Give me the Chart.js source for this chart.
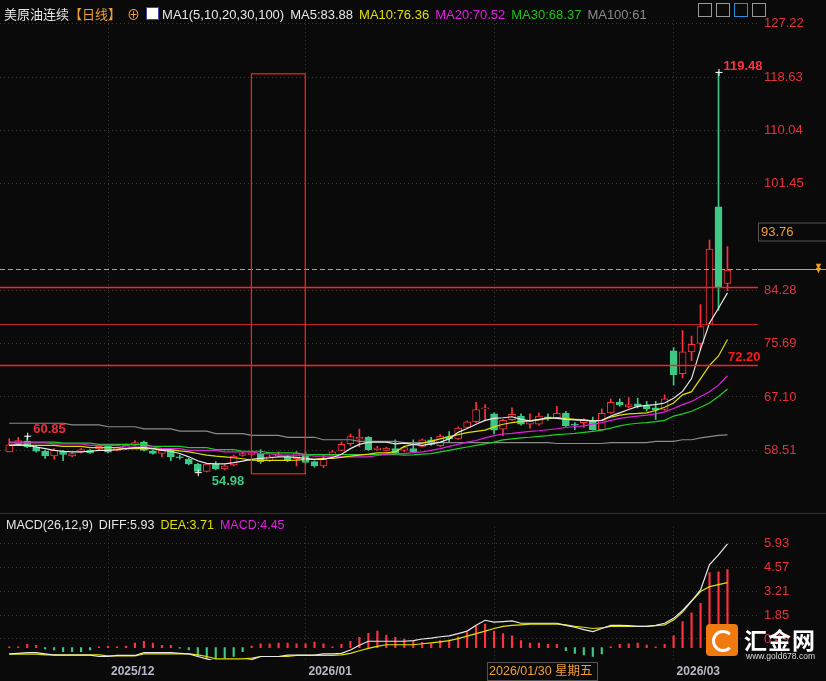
<!DOCTYPE html>
<html><head><meta charset="utf-8">
<script src="https://cdn.jsdelivr.net/npm/chart.js@4"></script>
<style>
html,body{margin:0;padding:0;background:#0a0a0a;overflow:hidden}
#wrap{position:relative;width:826px;height:681px;background:#0a0a0a;font-family:"Liberation Sans","Noto Sans CJK SC",sans-serif}
#c1{position:absolute;left:0;top:0}
#c2{position:absolute;left:0;top:513px}
.hd{position:absolute;top:4px;left:4px;font-size:13px;white-space:nowrap;color:#e6e6e6}
.hd span{margin-right:6px}
.mh{position:absolute;top:518px;left:6px;font-size:12.5px;white-space:nowrap;color:#e6e6e6}
.mh span{margin-right:6px}
.tb{position:absolute;top:3px;width:14px;height:14px;border:1px solid #999;box-sizing:border-box}
#logo{position:absolute;left:706px;top:624px;width:32px;height:32px;background:#f07a10;border-radius:4px}
#logo:after{content:"";position:absolute;left:6px;top:6px;width:16px;height:16px;border:3px solid #fff;border-radius:50%;border-right-color:transparent}
#lt{position:absolute;left:744px;top:622px;color:#fff;font-size:23px;font-family:"Noto Sans CJK SC";font-weight:bold;letter-spacing:1px}
#lu{position:absolute;left:746px;top:651px;color:#ddd;font-size:8.5px}
</style></head><body>
<div id="wrap">
<canvas id="c1" width="826" height="513"></canvas>
<canvas id="c2" width="826" height="168"></canvas>
<div class="hd"><span style="font-family:'Noto Sans CJK SC';margin-right:0">美原油连续</span><span style="color:#f0a030;font-family:'Noto Sans CJK SC'">【日线】</span><span style="color:#f0a030">⊕</span><span style="display:inline-block;width:11px;height:11px;background:#fff;border:1px solid #44a;margin-right:3px;vertical-align:-1px"></span><span>MA1(5,10,20,30,100)</span><span>MA5:83.88</span><span style="color:#e0e000">MA10:76.36</span><span style="color:#e020e0">MA20:70.52</span><span style="color:#20c020">MA30:68.37</span><span style="color:#8a8a8a">MA100:61</span></div>
<div class="tb" style="left:698px"></div><div class="tb" style="left:716px"></div><div class="tb" style="left:734px;border-color:#2a8fe0"></div><div class="tb" style="left:752px"></div>
<div class="mh"><span>MACD(26,12,9)</span><span>DIFF:5.93</span><span style="color:#e0e000">DEA:3.71</span><span style="color:#e020e0">MACD:4.45</span></div>
<div id="logo"></div><div id="lt">汇金网</div><div id="lu">www.gold678.com</div>
</div>
<script>
const OPEN=[58.24,59.55,59.97,59.03,58.35,57.61,58.35,57.61,58.19,58.50,58.71,59.13,58.50,58.77,59.29,59.82,58.40,57.98,58.50,57.45,57.09,56.30,55.10,56.25,55.51,56.14,57.66,57.82,57.98,56.82,57.61,57.45,57.14,57.87,56.67,55.98,57.72,58.50,59.55,60.34,60.61,58.61,58.50,58.77,58.50,58.76,59.13,60.18,59.24,60.71,60.34,62.18,63.12,65.17,64.38,61.92,63.44,64.02,62.70,62.70,63.91,63.76,64.49,62.70,62.97,63.23,61.81,64.54,66.22,65.49,66.01,65.59,65.33,65.07,74.52,70.85,74.37,75.73,78.83,97.75,85.40];
const HIGH=[60.34,60.61,60.85,59.13,58.50,58.77,58.50,58.08,58.77,58.61,59.29,59.29,59.03,59.55,60.08,59.97,58.50,58.61,58.61,57.72,57.19,56.40,56.40,56.67,56.19,57.72,58.19,58.24,58.61,57.72,58.24,57.72,58.35,58.24,56.82,57.72,58.50,59.82,61.13,61.92,60.71,59.13,59.03,60.18,59.13,60.18,60.34,60.60,61.02,61.50,62.28,63.23,66.22,65.86,64.54,63.49,65.33,64.38,64.38,64.54,64.38,65.59,64.80,62.97,63.60,63.86,65.17,66.75,66.80,67.01,66.90,66.38,66.38,67.43,75.05,77.78,76.89,81.98,92.39,119.48,91.34];
const LOW=[58.24,59.55,58.92,58.19,57.19,57.09,56.82,57.45,58.08,57.98,58.61,58.08,58.40,58.61,59.19,58.40,57.87,57.45,56.82,57.09,56.14,54.98,55.00,55.35,55.35,55.98,57.56,57.66,56.40,56.67,57.45,56.67,56.00,56.40,55.77,55.72,57.56,58.40,59.29,59.03,58.50,58.50,58.40,57.87,58.24,58.13,59.03,59.29,59.13,59.82,60.24,62.02,62.97,63.23,61.13,60.87,63.33,62.55,62.07,62.55,63.33,63.65,62.35,61.81,62.18,61.76,61.76,64.44,65.59,65.33,65.33,64.80,63.49,64.91,69.01,70.16,72.95,74.79,78.73,81.09,84.24];
const CLOSE=[59.40,60.08,59.03,58.35,57.61,58.50,57.82,57.98,58.61,58.08,59.13,58.19,58.92,59.29,59.76,58.50,57.98,58.50,57.45,57.30,56.30,55.10,56.30,55.51,55.98,57.56,57.98,58.08,56.67,57.45,57.82,56.82,57.98,56.56,55.98,57.14,58.24,59.45,60.71,60.61,58.61,58.87,58.87,57.98,58.92,58.24,60.18,59.45,60.81,60.34,62.07,63.07,65.07,65.22,61.76,63.33,64.28,62.70,63.23,64.02,63.65,64.44,62.44,62.55,63.33,61.81,64.44,66.22,65.86,65.86,65.59,65.17,64.96,66.80,70.69,74.37,75.57,78.46,90.92,84.77,87.55];
const MA5=[59.29,59.40,59.29,59.03,58.77,58.50,58.35,58.24,58.24,58.35,58.50,58.50,58.61,58.77,58.92,58.92,58.77,58.50,58.35,57.98,57.45,56.82,56.40,56.30,56.30,56.51,56.77,57.03,57.19,57.30,57.45,57.45,57.35,57.19,57.03,57.03,57.35,57.87,58.77,59.45,59.82,59.82,59.82,59.55,59.66,59.45,59.29,59.55,59.81,60.34,61.39,62.02,62.70,63.33,63.65,63.75,63.91,63.49,63.23,63.49,63.75,63.65,63.49,63.39,63.33,63.23,63.33,64.02,64.54,65.07,65.59,65.75,65.86,66.12,66.90,68.00,70.06,74.80,79.00,81.40,83.88];
const MA10=[59.29,59.29,59.29,59.29,59.29,59.29,59.13,59.13,59.13,58.92,58.92,58.92,58.92,58.77,58.77,58.77,58.77,58.61,58.61,58.40,58.24,57.98,57.72,57.56,57.45,57.30,57.14,56.93,56.88,56.88,56.88,56.88,56.93,57.03,57.03,57.19,57.19,57.35,57.56,57.72,57.87,58.08,58.08,58.24,59.13,59.45,59.66,59.97,60.34,60.71,61.02,61.34,61.55,61.76,62.28,62.70,62.97,63.12,63.23,63.39,63.65,63.75,63.60,63.49,63.39,63.23,63.33,63.86,64.17,64.38,64.44,64.54,64.91,65.44,66.12,67.43,67.95,70.06,72.20,73.70,76.36];
const MA20=[59.71,59.71,59.71,59.71,59.71,59.55,59.55,59.55,59.55,59.29,59.29,59.29,59.29,59.03,59.03,59.03,59.03,58.77,58.77,58.77,58.50,58.50,58.50,58.50,58.24,58.24,58.24,58.24,57.98,57.98,57.72,57.72,57.72,57.72,57.56,57.56,57.56,57.45,57.45,57.45,57.45,57.66,57.87,57.98,57.98,58.13,58.24,58.50,58.76,59.13,59.45,59.81,60.08,60.50,60.87,61.13,61.23,61.39,61.55,61.65,61.81,61.97,62.18,62.34,62.44,62.70,62.97,63.33,63.65,63.86,64.02,64.17,64.38,64.70,65.23,65.86,66.38,67.17,67.95,69.00,70.52];
const MA30=[59.82,59.82,59.82,59.82,59.82,59.82,59.66,59.66,59.66,59.66,59.45,59.45,59.45,59.45,59.45,59.45,59.13,59.13,59.13,59.13,58.92,58.92,58.92,58.61,58.61,58.61,58.35,58.35,58.35,58.08,58.08,58.08,58.08,57.82,57.82,57.82,57.82,57.82,57.82,57.82,57.82,57.82,57.82,57.82,57.71,57.76,57.87,57.98,58.24,58.50,58.76,59.03,59.29,59.55,59.81,60.18,60.34,60.50,60.60,60.76,60.87,61.02,61.13,61.23,61.39,61.55,61.76,62.07,62.44,62.70,62.86,62.97,63.12,63.33,64.02,64.38,64.80,65.44,66.12,67.17,68.37];
const MA100=[62.86,62.86,62.86,62.86,62.86,62.86,62.86,62.60,62.60,62.60,62.60,62.30,62.30,62.30,62.30,61.95,61.95,61.95,61.95,61.60,61.60,61.60,61.60,61.20,61.20,61.20,61.20,60.90,60.90,60.90,60.90,60.60,60.60,60.60,60.60,60.20,60.20,60.20,60.20,59.95,59.95,59.95,59.95,59.95,59.75,59.75,59.75,59.75,59.75,59.75,59.75,59.75,59.75,59.75,59.75,59.75,59.75,59.75,59.75,59.75,59.75,59.60,59.60,59.60,59.60,59.60,59.60,59.75,59.75,59.75,59.75,59.75,59.95,59.95,59.95,60.20,60.20,60.50,60.70,60.90,61.00];
const HIST=[0.04,0.04,0.18,0.13,-0.07,-0.14,-0.24,-0.24,-0.24,-0.14,0.04,0.09,0.04,0.09,0.25,0.36,0.25,0.13,0.13,-0.04,-0.14,-0.47,-0.60,-0.60,-0.60,-0.51,-0.24,0.09,0.22,0.22,0.25,0.25,0.22,0.22,0.31,0.22,0.04,0.18,0.36,0.58,0.81,0.94,0.72,0.58,0.49,0.36,0.30,0.22,0.40,0.43,0.62,0.85,1.21,1.34,0.94,0.80,0.67,0.40,0.25,0.25,0.18,0.18,-0.18,-0.33,-0.42,-0.51,-0.36,0.04,0.18,0.22,0.25,0.14,0.04,0.18,0.67,1.48,1.99,2.53,4.29,4.33,4.45];
const DIFF=[-0.36,-0.33,-0.29,-0.29,-0.36,-0.43,-0.43,-0.43,-0.43,-0.43,-0.51,-0.51,-0.45,-0.45,-0.45,-0.29,-0.29,-0.29,-0.29,-0.33,-0.36,-0.51,-0.65,-0.78,-0.78,-0.78,-0.78,-0.69,-0.51,-0.51,-0.51,-0.43,-0.43,-0.43,-0.43,-0.36,-0.36,-0.33,-0.14,0.13,0.36,0.36,0.36,0.36,0.36,0.40,0.49,0.54,0.62,0.67,0.80,0.94,1.27,1.56,1.45,1.48,1.52,1.39,1.39,1.39,1.39,1.39,1.27,1.16,1.03,0.91,1.09,1.27,1.27,1.25,1.21,1.21,1.27,1.39,1.67,2.12,2.66,3.29,4.74,5.29,5.93];
const DEA=[-0.38,-0.38,-0.38,-0.38,-0.42,-0.42,-0.42,-0.42,-0.42,-0.42,-0.42,-0.47,-0.47,-0.47,-0.47,-0.36,-0.36,-0.36,-0.36,-0.36,-0.36,-0.42,-0.51,-0.65,-0.65,-0.65,-0.65,-0.60,-0.51,-0.51,-0.51,-0.51,-0.45,-0.45,-0.45,-0.45,-0.45,-0.42,-0.33,-0.18,-0.05,0.07,0.16,0.16,0.16,0.16,0.22,0.27,0.33,0.40,0.51,0.65,0.80,0.94,1.09,1.21,1.27,1.30,1.34,1.34,1.34,1.34,1.30,1.21,1.16,1.09,1.12,1.21,1.21,1.21,1.21,1.21,1.25,1.30,1.57,2.03,2.66,3.20,3.48,3.60,3.71];
const PRICE_TICKS=[58.51,67.10,75.69,84.28,101.45,110.04,118.63,127.22];
const MACD_TICKS=[0.49,1.85,3.21,4.57,5.93];
const DATE_MARKS=[11,33,54,74];
const DATE_LABELS=['2025/12','2026/01','2026/01/30 星期五','2026/03'];
const LAST_PRICE=87.8, CROSS_PRICE=93.76;
const RED_LINES=[84.8,78.8,72.2];
const BOX={x0:26.97,x1:32.97,y0:54.72,y1:119.18};
const MARKS=[{k:2,v:60.85,t:'60.85',c:'#e8303a'},{k:21,v:54.98,t:'54.98',c:'#3dc985'},{k:79,v:119.48,t:'119.48',c:'#ff3040'}];

const RED='#ff3040',GRN='#3dc985';
const N=CLOSE.length, idx=[...Array(N).keys()];
const up=idx.map(i=>CLOSE[i]>=OPEN[i]);
const XMIN=-1.03,XMAX=83.4;
const fixW=w=>s=>{s.width=w;};
function xAxis(h){return {type:'linear',offset:false,min:XMIN,max:XMAX,afterFit:s=>{s.height=h;},afterBuildTicks:s=>{s.ticks=DATE_MARKS.map(v=>({value:v}));},ticks:{display:false},border:{display:false,dash:[1,3]},grid:{offset:false,color:'#3a3a3a',lineWidth:1,tickLength:0}};}
function yAxis(min,max,ticks,fmt){return {position:'right',min,max,afterFit:fixW(68),afterBuildTicks:s=>{s.ticks=ticks.map(v=>({value:v}));},border:{display:false,dash:[1,3]},grid:{color:'#3a3a3a',tickLength:0},ticks:{color:'#e8303a',font:{size:13,family:'Liberation Sans'},padding:6,callback:v=>fmt(v)}};}
const ln=(d,c)=>({type:'line',data:idx.map(i=>({x:i,y:d[i]})),borderColor:c,borderWidth:1.2,pointRadius:0,tension:0,order:0});

const overlay={id:'ov',afterDatasetsDraw(ch){
  const c=ch.ctx,x=ch.scales.x,y=ch.scales.y,a=ch.chartArea;
  c.save();
  RED_LINES.forEach((v,i)=>{c.strokeStyle=i==1?'#c02020':'#ff2020';c.lineWidth=i==1?1:1.3;const py=Math.round(y.getPixelForValue(v))+.5;c.beginPath();c.moveTo(0,py);c.lineTo(a.right,py);c.stroke();});
  const yp=Math.round(y.getPixelForValue(LAST_PRICE))+.5;
  c.strokeStyle='#ff9020';c.lineWidth=1.2;c.setLineDash([5,3]);c.beginPath();c.moveTo(0,yp);c.lineTo(a.right,yp);c.stroke();c.setLineDash([]);
  c.beginPath();c.moveTo(a.right,yp);c.lineTo(826,yp);c.stroke();
  c.fillStyle='#f0a020';c.font='9px Liberation Sans';c.fillText('▼',814,yp+3);c.fillText('▼',814,yp-1);
  c.strokeStyle='#ff2020';c.lineWidth=1.2;
  const bx0=x.getPixelForValue(BOX.x0),bx1=x.getPixelForValue(BOX.x1),by0=y.getPixelForValue(BOX.y1),by1=y.getPixelForValue(BOX.y0);
  c.strokeRect(bx0,by0,bx1-bx0,by1-by0);
  const yc=y.getPixelForValue(CROSS_PRICE);
  c.fillStyle='#0a0a0a';c.fillRect(758,yc-8,68,18);c.strokeStyle='#555';c.lineWidth=1;c.strokeRect(758.5,yc-8.5,68,18);
  c.fillStyle='#f0a030';c.font='13px Liberation Sans';c.textBaseline='middle';c.fillText(CROSS_PRICE.toFixed(2),761,yc+1);
  c.fillStyle='#ff1a1a';c.font='bold 13px Liberation Sans';c.textBaseline='bottom';c.fillText('72.20',728,y.getPixelForValue(RED_LINES[2])-1);
  MARKS.forEach((m,i)=>{const px=x.getPixelForValue(m.k),py=y.getPixelForValue(m.v);
    c.strokeStyle='#fff';c.lineWidth=1;c.beginPath();c.moveTo(px-3,py+.5);c.lineTo(px+4,py+.5);c.moveTo(px+.5,py-3);c.lineTo(px+.5,py+4);c.stroke();
    c.fillStyle=m.c;c.font='bold 13px Liberation Sans';c.textBaseline='middle';
    if(i==0)c.fillText(m.t,px+6,py-6);else if(i==1)c.fillText(m.t,px+14,py+9);else c.fillText(m.t,px+5,py-6);});
  c.restore();}};

new Chart(document.getElementById('c1'),{data:{datasets:[
  ln(MA5,'#e8e8e8'),ln(MA10,'#e0e000'),ln(MA20,'#e020e0'),ln(MA30,'#20d020'),ln(MA100,'#8a8a8a'),
  {type:'bar',data:idx.map(i=>({x:i,y:[LOW[i],HIGH[i]]})),backgroundColor:idx.map(i=>up[i]?RED:GRN),barThickness:1,grouped:false,order:2},
  {type:'bar',data:idx.map(i=>({x:i,y:[OPEN[i],CLOSE[i]]})),backgroundColor:idx.map(i=>up[i]?'#0a0a0a':GRN),borderColor:idx.map(i=>up[i]?RED:GRN),borderWidth:1,borderSkipped:false,barThickness:7,minBarLength:1,grouped:false,order:1}
]},options:{responsive:false,animation:false,events:[],layout:{padding:{top:20,bottom:3,left:0,right:0}},
  plugins:{legend:{display:false},tooltip:{enabled:false}},
  scales:{x:xAxis(0),y:yAxis(50.62,127.85,PRICE_TICKS,v=>v.toFixed(2))}},plugins:[overlay]});

const overlay2={id:'ov2',afterDraw(ch){
  const c=ch.ctx,x=ch.scales.x,a=ch.chartArea;c.save();
  c.strokeStyle='#333';c.beginPath();c.moveTo(0,.5);c.lineTo(826,.5);c.stroke();
  c.font='bold 12px Liberation Sans';c.textBaseline='middle';
  DATE_MARKS.forEach((k,i)=>{const px=x.getPixelForValue(k);
    if(i==2){c.fillStyle='#0a0a0a';c.fillRect(px-7,a.bottom+2,110,19);c.strokeStyle='#555';c.strokeRect(px-6.5,a.bottom+2.5,110,18);c.fillStyle='#f0a030';c.font='12.5px Liberation Sans, Noto Sans CJK SC';c.fillText(DATE_LABELS[i],px-5,a.bottom+12);c.font='bold 12px Liberation Sans';}
    else{c.fillStyle='#b8b8c8';c.fillText(DATE_LABELS[i],px+3,a.bottom+12);}});
  c.restore();}};
new Chart(document.getElementById('c2'),{data:{datasets:[
  ln(DIFF,'#e8e8e8'),ln(DEA,'#e0e000'),
  {type:'bar',data:idx.map(i=>({x:i,y:[0,HIST[i]]})),backgroundColor:idx.map(i=>HIST[i]>=0?RED:GRN),barThickness:1.5,grouped:false,order:2}
]},options:{responsive:false,animation:false,events:[],layout:{padding:{top:7,bottom:0}},
  plugins:{legend:{display:false},tooltip:{enabled:false}},
  scales:{x:xAxis(21),y:yAxis(-0.71,6.90,MACD_TICKS,v=>v.toFixed(2))}},plugins:[overlay2]});
</script></body></html>
